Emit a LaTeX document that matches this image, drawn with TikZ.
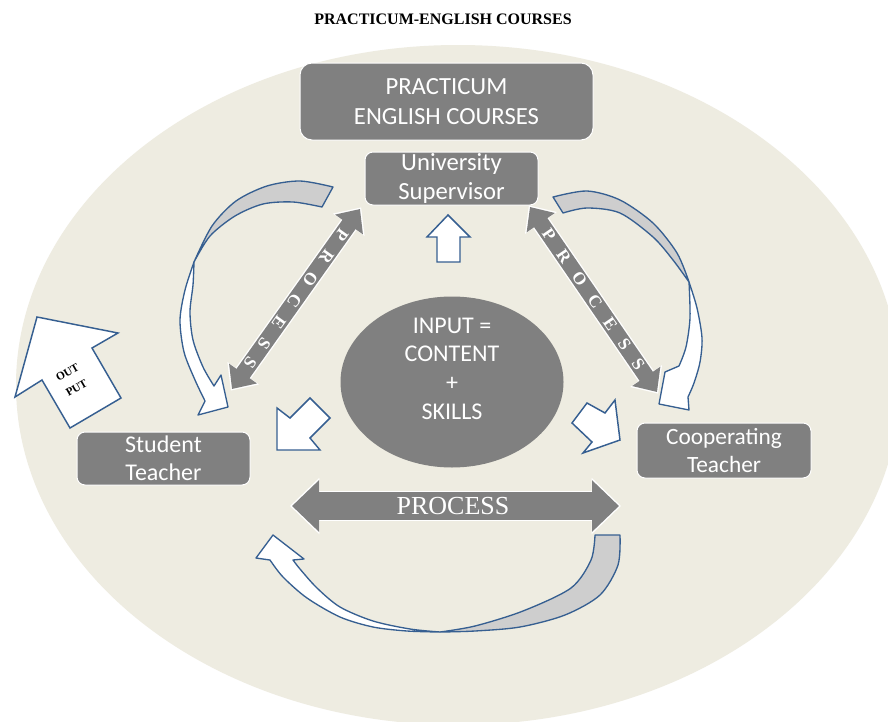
\documentclass[tikz,border=0pt]{standalone}
\usepackage{fontspec}
\usetikzlibrary{arrows.meta,shapes.geometric,calc}
\newfontfamily\calib{Carlito}
\newfontfamily\serifb{Liberation Serif}
\definecolor{bgtan}{RGB}{238,236,225}
\definecolor{boxgray}{RGB}{128,128,128}
\definecolor{tailgray}{RGB}{206,206,206}
\definecolor{edgeblue}{RGB}{54,95,145}
\newcommand\procgap{\kern 10.9pt}

\begin{document}
\begin{tikzpicture}[x=0.75pt,y=-0.75pt,
  graybox/.style={rectangle, rounded corners=6pt, fill=boxgray, draw=white,
    line width=0.75pt, text=white, align=center, inner sep=0pt},
  curvedband/.style={fill=white, draw=edgeblue, line width=1pt, line join=round},
  tailband/.style={fill=tailgray, draw=edgeblue, line width=1pt, line join=round},
  blockarrow/.style={fill=white, draw=edgeblue, line width=1.1pt, line join=miter},
  procglow/.style={draw=white, line width=14pt, shorten <=-1.5pt, shorten >=-1.5pt,
    arrows={Triangle[length=16pt,width=28pt]-Triangle[length=16pt,width=28pt]}},
  procdiag/.style={draw=boxgray, line width=12pt,
    arrows={Triangle[length=14.25pt,width=24.75pt]-Triangle[length=14.25pt,width=24.75pt]}},
  horizglow/.style={draw=white, line width=23pt, shorten <=-1.5pt, shorten >=-1.5pt,
    arrows={Triangle[length=22pt,width=41pt]-Triangle[length=22pt,width=41pt]}},
  prochoriz/.style={draw=boxgray, line width=21pt,
    arrows={Triangle[length=20.25pt,width=37.5pt]-Triangle[length=20.25pt,width=37.5pt]}},
  diaglabel/.style={text=white, font=\serifb\bfseries\fontsize{13}{15}\selectfont, inner sep=0pt}
]
\useasboundingbox (0,0) rectangle (888,721);
\fill[white] (0,0) rectangle (888,721);

% tan background field
\begin{scope}
  \clip (0,0) rectangle (888,721);
  \fill[bgtan] (458,385) ellipse [x radius=442, y radius=340];
\end{scope}

% title
\node[font=\serifb\bfseries\fontsize{12}{14}\selectfont] (title) at (443,19.5) {PRACTICUM-ENGLISH COURSES};

% curved feedback arrow, supervisor -> student teacher
\path[curvedband] plot[smooth] coordinates {(194,262) (185,290) (180,320) (184,352) (195,380) (205,401)}
  -- (198,415) -- (228,407) -- (221,375) -- (214,386)
  -- plot[smooth] coordinates {(214,386) (203,367) (193,340) (190,312) (193,285) (194,262)} -- cycle;
\path[tailband] plot[smooth] coordinates {(333,187) (300,181) (267,186) (236,201) (212,226) (194,262)}
  -- plot[smooth] coordinates {(194,262) (210,236) (235,216) (263,204) (293,202) (322,207)} -- cycle;

% curved feedback arrow, supervisor -> cooperating teacher
\path[curvedband] plot[smooth] coordinates {(689,282) (697,308) (702,338) (700,362) (694,383) (688,397)}
  -- (689,410) -- (659,404) -- (665,372) -- (679,366)
  -- plot[smooth] coordinates {(679,366) (686,347) (690,318) (689,282)} -- cycle;
\path[tailband] plot[smooth] coordinates {(553,197) (587,191) (620,200) (653,223) (677,253) (689,282)}
  -- plot[smooth] coordinates {(689,282) (673,260) (653,237) (620,213) (587,208) (563,213)} -- cycle;

% curved feedback arrow along the bottom
\path[curvedband] plot[smooth] coordinates {(440,632) (407,631) (373,627) (340,617) (307,598) (283,577) (270,560)}
  -- (256,558) -- (273,535) -- (304,559) -- (293,560)
  -- plot[smooth] coordinates {(293,560) (300,569) (317,588) (340,607) (373,621) (410,629) (440,632)} -- cycle;
\path[tailband] plot[smooth] coordinates {(620,535) (618,565) (600,595) (565,615) (520,627) (475,631) (440,632)}
  -- plot[smooth] coordinates {(440,632) (475,626) (523,611) (571,588) (591,560) (595,535)} -- cycle;

% small block arrows leaving the input
\path[blockarrow] (448,215) -- (470,237) -- (460,237) -- (460,262) -- (437,262) -- (437,237) -- (427,237) -- cycle;
\path[blockarrow] (277,408) -- (290,418) -- (310,398) -- (330,418) -- (310,438) -- (320,450) -- (277,450) -- cycle;
\path[blockarrow] (572,423) -- (587,403) -- (605,413) -- (615,400) -- (620,440) -- (583,453) -- (592,442) -- cycle;

% output arrow
\path[blockarrow] (37,317) -- (118,333) -- (92,348) -- (121,398) -- (70,428) -- (42,380) -- (15,397) -- cycle;
\node[rotate=30, align=center, font=\serifb\bfseries\fontsize{8.5}{13.5}\selectfont] (output) at (72,380) {OUT\\PUT};

% boxes
\node[graybox, minimum width=219.75pt, minimum height=57.75pt, rounded corners=9pt,
  font=\calib\fontsize{18.5}{22.5}\selectfont] (courses) at (446.5,101.5) {PRACTICUM\\ENGLISH COURSES};
\node[graybox, minimum width=129.75pt, minimum height=39.75pt,
  font=\calib\fontsize{18.5}{21.75}\selectfont] (supervisor) at (451.5,178.5) {University\\Supervisor};
\node[graybox, minimum width=129.75pt, minimum height=39.75pt,
  font=\calib\fontsize{18}{21}\selectfont] (student) at (163.5,458.5) {Student\\Teacher};
\node[graybox, minimum width=130.5pt, minimum height=41.25pt,
  font=\calib\fontsize{17.5}{21}\selectfont] (coop) at (724,450.5) {Cooperating\\Teacher};

% central input
\node[ellipse, fill=boxgray, minimum width=167.25pt, minimum height=128.25pt, inner sep=0pt] (input) at (452,382) {};
\node[text=white, align=center, font=\calib\fontsize{18}{21.5}\selectfont] (inputtext) at (452,368.5) {INPUT =\\CONTENT\\+\\SKILLS};

% process arrows
\coordinate (ldTop) at (360,209);
\coordinate (ldBot) at (232,389);
\coordinate (rdTop) at (530,207);
\coordinate (rdBot) at (657,392);
\coordinate (hL) at (292,506);
\coordinate (hR) at (619,506);
\draw[procglow] (ldTop) -- (ldBot);
\draw[procglow] (rdTop) -- (rdBot);
\draw[horizglow] (hL) -- (hR);
\draw[procdiag] (ldTop) -- (ldBot);
\draw[procdiag] (rdTop) -- (rdBot);
\draw[prochoriz] (hL) -- (hR);
\node[diaglabel, rotate=-125.7] (ldlabel) at ($(ldTop)!0.5!(ldBot)$) {P\procgap R\procgap O\procgap C\procgap E\procgap S\procgap S};
\node[diaglabel, rotate=-55.4] (rdlabel) at ($(rdTop)!0.5!(rdBot)$) {P\procgap R\procgap O\procgap C\procgap E\procgap S\procgap S};
\node[text=white, font=\serifb\fontsize{19.5}{22}\selectfont, inner sep=0pt] (hlabel) at (453,506.5) {PROCESS};
\end{tikzpicture}
\end{document}
